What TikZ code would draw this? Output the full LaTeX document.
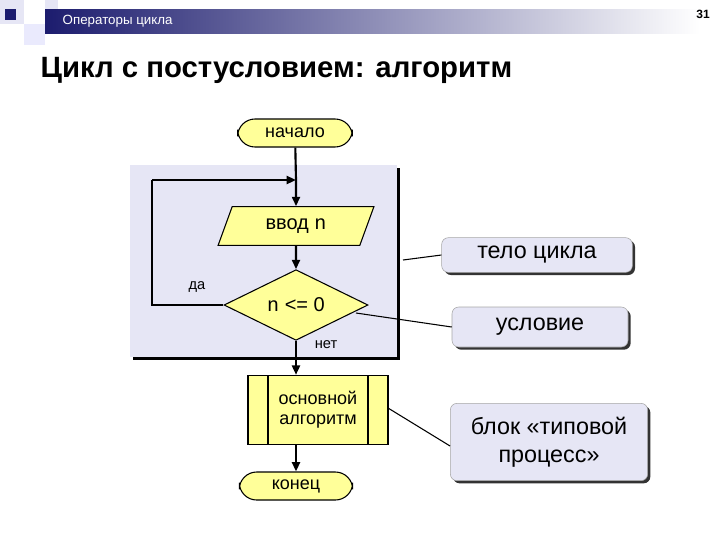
\documentclass[tikz,border=0pt]{standalone}
\usepackage{fontspec}
\setmainfont{Liberation Sans}
\newfontfamily\monof{Liberation Mono}
\usetikzlibrary{shapes.geometric,arrows.meta,shadows}
\definecolor{yel}{HTML}{FFFF99}
\definecolor{lav}{HTML}{E6E6F5}
\definecolor{navy}{HTML}{1C1C6E}
\begin{document}
\begin{tikzpicture}[x=0.75pt,y=-0.75pt,
  blk/.style={draw=black,fill=yel,line width=0.8pt,font=\fontsize{13.5}{15}\selectfont},
  arr/.style={line width=1.6pt,-{Triangle[length=7pt,width=6pt]}},
  ln/.style={line width=1.6pt},
  call/.style={draw=gray!70,fill=lav,rounded corners=5pt,font=\fontsize{17.5}{21}\selectfont,align=center,
     drop shadow={shadow xshift=2pt,shadow yshift=-2pt,fill=black!80,opacity=1}},
  lead/.style={line width=0.8pt}]
\useasboundingbox (0,0) rectangle (720,540);
% header decoration
\fill[lav] (0,0) rectangle (24,24);
\fill[lav!80!blue!30] (24,24) rectangle (45,45);
\fill[lav] (45,0) rectangle (58,10);
\fill[navy] (5,9) rectangle (16,20);
\shade[left color=navy,right color=white] (45,9) rectangle (700,33);
\node[white,anchor=west,font=\fontsize{10}{12}\selectfont] (hdr) at (58,21) {Операторы цикла};
\node[font=\bfseries\fontsize{9}{11}\selectfont] (pg) at (703,14) {31};
\node[anchor=west,font=\bfseries\fontsize{22}{26}\selectfont] (title) at (36,70) {Цикл с постусловием: алгоритм};
% loop region
\fill[black] (133,168) rectangle (400,360);
\fill[lav] (130,165) rectangle (397,357);
% nodes
\node[blk,rounded corners=13pt,minimum width=86pt,minimum height=21pt] (start) at (295,133) {начало};
\node[blk,trapezium,trapezium left angle=70,trapezium right angle=110,minimum width=110pt,minimum height=29pt,inner sep=2pt,font=\fontsize{15}{17}\selectfont] (in) at (296,226) {ввод {\monof n}};
\node[blk,diamond,aspect=2.05,minimum width=108pt,minimum height=53pt,inner sep=0pt,font=\fontsize{15}{17}\selectfont] (cond) at (296,305) {{\monof n} <= 0};
\node[blk,minimum width=105pt,minimum height=52pt,align=center,inner sep=0pt] (proc) at (318,410) {основной\\алгоритм};
\draw[line width=0.8pt] (268,375) -- (268,445) (368,375) -- (368,445);
\node[blk,rounded corners=13pt,minimum width=85pt,minimum height=21pt] (end) at (296,486) {конец};
% connectors
\coordinate (j) at (296,180);
\coordinate (l1) at (152,305);
\coordinate (l2) at (152,180);
\draw[ln] (start) -- (j);
\draw[arr] (j) -- (in);
\draw[arr] (in) -- (cond.north);
\draw[ln] (cond.west) -- (l1) -- (l2);
\draw[arr] (l2) -- (j);
\draw[arr] (cond.south) -- (proc.north -| cond.south);
\draw[arr] (proc.south -| end.north) -- (end.north);
\node[font=\fontsize{11}{13}\selectfont] (da) at (197,287) {да};
\node[font=\fontsize{11}{13}\selectfont] (net) at (326,345) {нет};
% callouts
\node[call,minimum width=143pt,minimum height=26pt] (c1) at (537,255) {тело цикла};
\node[call,minimum width=132pt,minimum height=30pt] (c2) at (540,327) {условие};
\node[call,minimum width=148pt,minimum height=58pt] (c3) at (549,442) {блок «типовой\\процесс»};
\coordinate (p1) at (403,260);
\coordinate (p2) at (356,313);
\coordinate (p3) at (388,408);
\draw[lead] (p1) -- (c1.west);
\draw[lead] (p2) -- (c2.west);
\draw[lead] (p3) -- ([yshift=-3pt]c3.west);
\end{tikzpicture}
\end{document}
